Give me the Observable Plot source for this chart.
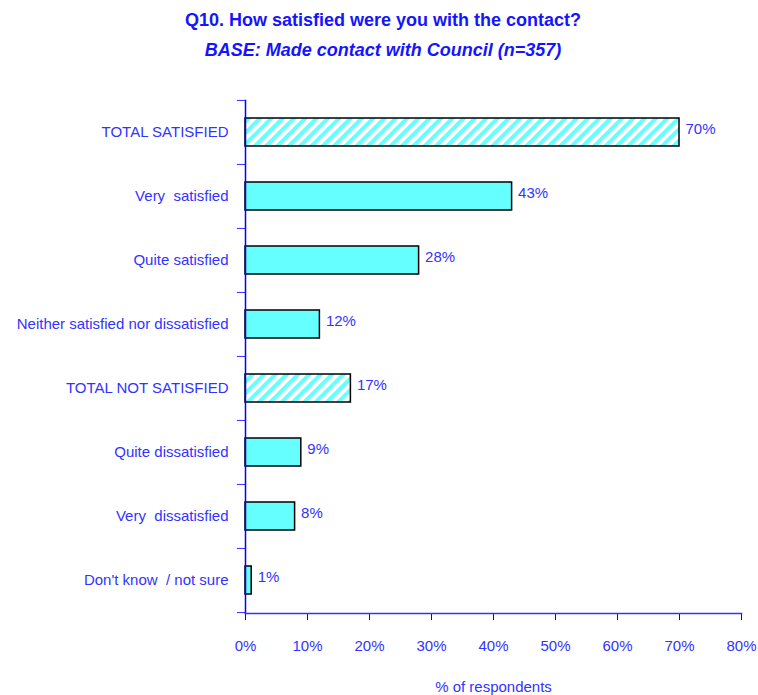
<!DOCTYPE html>
<html>
<head>
<meta charset="utf-8">
<script src="https://cdn.jsdelivr.net/npm/d3@7"></script>
<script src="https://cdn.jsdelivr.net/npm/@observablehq/plot@0.6"></script>
<style>
  body { margin: 0; background: #fff; }
  #wrap { width: 758px; font-family: "Liberation Sans", Arial, sans-serif; }
  #title { height: 70px; text-align: center; color: #1414ff; font-weight: bold; font-size: 18px; line-height: 30px; padding-top: 5px; box-sizing: border-box; padding-left: 8px; }
  #title .sub { font-style: italic; }
</style>
</head>
<body>
<div id="wrap">
  <div id="title">
    <div>Q10. How satisfied were you with the contact?</div>
    <div class="sub">BASE: Made contact with Council (n=357)</div>
  </div>
  <div id="chart"></div>
</div>
<script>
const categories = [
  "TOTAL SATISFIED",
  "Very  satisfied",
  "Quite satisfied",
  "Neither satisfied nor dissatisfied",
  "TOTAL NOT SATISFIED",
  "Quite dissatisfied",
  "Very  dissatisfied",
  "Don't know  / not sure"
];
const values = [70, 43, 28, 12, 17, 9, 8, 1];
const totals = [true, false, false, false, true, false, false, false];
const xTicks = [0, 10, 20, 30, 40, 50, 60, 70, 80];

const data = categories.map((c, i) => ({category: c, value: values[i], total: totals[i]}));

const W = 758, H = 625, mT = 30, mB = 82, mL = 245, mR = 17;
const step = (H - mT - mB) / categories.length;
const blue = "#0000ff";
const labelBlue = "#3333ff";

const plot = Plot.plot({
  width: W,
  height: H,
  marginTop: mT,
  marginBottom: mB,
  marginLeft: mL,
  marginRight: mR,
  style: {fontFamily: "'Liberation Sans', Arial, sans-serif", fontSize: "15px", color: labelBlue, overflow: "visible"},
  x: {domain: [0, 80], ticks: xTicks, tickFormat: d => d + "%"},
  y: {domain: categories, paddingInner: 0.56, paddingOuter: 0.28, align: 0.5},
  marks: [
    () => {
      const svg = d3.create("svg:defs");
      const p = svg.append("pattern")
        .attr("id", "hatch")
        .attr("patternUnits", "userSpaceOnUse")
        .attr("width", 8).attr("height", 8)
        .attr("patternTransform", "rotate(45)");
      p.append("rect").attr("width", 8).attr("height", 8).attr("fill", "#ffffff");
      p.append("rect").attr("width", 4).attr("height", 8).attr("fill", "#66ffff");
      return svg.node();
    },
    Plot.barX(data, {
      x: "value", y: "category",
      fill: d => d.total ? "url(#hatch)" : "#66ffff",
      stroke: "#000", strokeWidth: 1.5
    }),
    Plot.text(data, {
      x: "value", y: "category", text: d => d.value + "%",
      textAnchor: "start", dx: 6, dy: -3, fill: labelBlue, fontSize: 15
    }),
    Plot.ruleY(categories, {y: d => d, x1: -1.3, x2: 0, dy: -step / 2, stroke: labelBlue, clip: false}),
    Plot.ruleY([categories[categories.length - 1]], {y: d => d, x1: -1.3, x2: 0, dy: step / 2, stroke: labelBlue}),
    Plot.axisY({tickSize: 0, tickPadding: 17, fill: labelBlue, fontSize: 15, label: null}),
    Plot.axisX({ticks: xTicks, tickFormat: d => d + "%", tickSize: 7, tickPadding: 20, stroke: blue, fill: labelBlue, fontSize: 15, label: null}),
    Plot.frame({anchor: "left", stroke: blue, strokeWidth: 1.5}),
    Plot.frame({anchor: "bottom", stroke: labelBlue, strokeWidth: 1.5}),
    Plot.text(["% of respondents"], {
      frameAnchor: "bottom", text: d => d, dy: 78, fill: labelBlue, fontSize: 15
    })
  ]
});
document.getElementById("chart").appendChild(plot);
</script>
</body>
</html>
